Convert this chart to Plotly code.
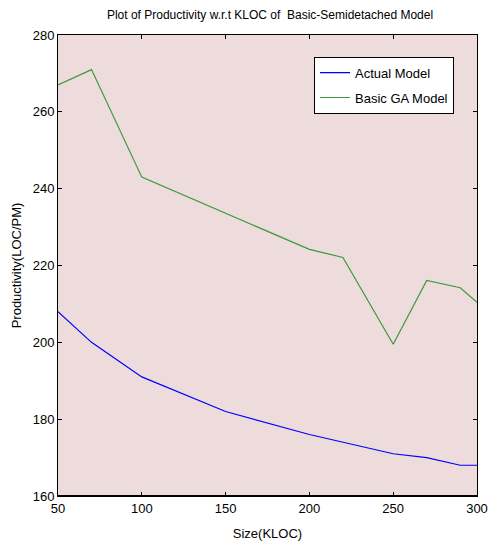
import plotly.graph_objects as go

size_kloc = [50, 70, 100, 150, 200, 220, 250, 270, 290, 300]
actual_model = [208, 200, 191, 182, 176, 174, 171, 170, 168, 168]
basic_ga_model = [267, 271, 243, 233.5, 224.2, 222.1, 199.5, 216.1, 214.2, 210.4]
x_ticks = [50, 100, 150, 200, 250, 300]
y_ticks = [160, 180, 200, 220, 240, 260, 280]

font = "Liberation Sans, Arial, sans-serif"

fig = go.Figure()
fig.add_trace(go.Scatter(x=size_kloc, y=actual_model, mode="lines", name="Actual Model",
                         legendgroup="a", line=dict(color="#0000ff", width=1.2)))
fig.add_trace(go.Scatter(x=size_kloc, y=basic_ga_model, mode="lines", name="Basic GA Model",
                         legendgroup="b", line=dict(color="#3a9a3a", width=1.2)))

axis_common = dict(showline=True, linecolor="black", linewidth=1, mirror="ticks",
                   ticks="inside", ticklen=4, tickcolor="black", showgrid=False,
                   zeroline=False, tickfont=dict(family=font, size=13, color="black"))

fig.update_layout(
    width=500, height=551,
    margin=dict(l=58, r=18, t=35, b=51),
    paper_bgcolor="white", plot_bgcolor="#eedcdd",
    title=dict(text="Plot of Productivity w.r.t KLOC of  Basic-Semidetached Model",
               x=0.54, xanchor="center", y=1 - 15 / 551, yanchor="middle",
               font=dict(family=font, size=12, color="black")),
    xaxis=dict(range=[50, 300], tickvals=x_ticks,
               title=dict(text="Size(KLOC)", font=dict(family=font, size=13, color="black"), standoff=14),
               **axis_common),
    yaxis=dict(range=[160, 280], tickvals=y_ticks,
               title=dict(text="Productivity(LOC/PM)", font=dict(family=font, size=13, color="black"), standoff=8),
               **axis_common),
    legend=dict(x=0.611, y=0.953, xanchor="left", yanchor="top",
                bgcolor="white", bordercolor="black", borderwidth=1,
                font=dict(family=font, size=13, color="black"),
                traceorder="grouped", tracegroupgap=5,
                entrywidth=140, entrywidthmode="pixels"),
    showlegend=True,
    shapes=[dict(type="line", xref="paper", yref="paper", x0=0, x1=1, y0=0, y1=0,
                 line=dict(color="black", width=2))],
)

fig.write_html(
    "out.html",
    config={"displayModeBar": False},
    post_script=(
        "document.documentElement.style.margin='0';"
        "document.documentElement.style.overflow='hidden';"
        "document.body.style.margin='0';"
        "document.body.style.overflow='hidden';"
        "document.body.style.height='551px';"
    ),
)
